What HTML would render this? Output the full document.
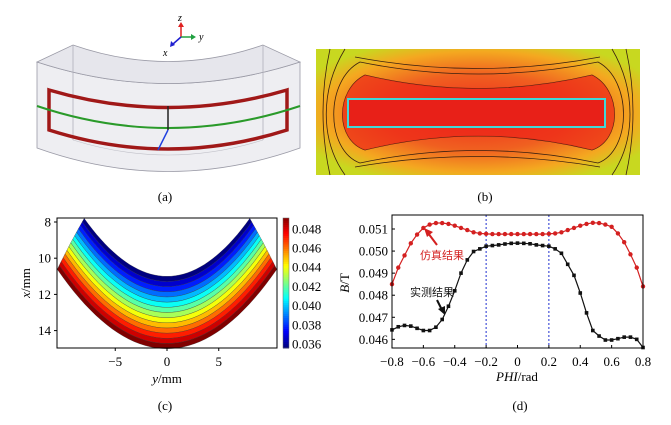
<!DOCTYPE html>
<html><head><meta charset="utf-8"><style>
html,body{margin:0;padding:0;background:#fff;}
svg{display:block;font-family:"Liberation Serif","Noto Serif CJK SC","Noto Sans CJK SC",serif;}
</style></head><body>
<svg id="fig" width="671" height="425" viewBox="0 0 671 425" xmlns="http://www.w3.org/2000/svg">
<defs>
<radialGradient id="bg" cx="50%" cy="50%" r="60%">
<stop offset="0" stop-color="#ee2a1c"/><stop offset="0.5" stop-color="#f06020"/><stop offset="0.8" stop-color="#f4a820"/><stop offset="1" stop-color="#c8d820"/>
</radialGradient>
</defs>
<!-- Panel a -->
<g>
<path d="M37,62 Q168,105 300,62 L300,148 Q168,195 37,148 Z" fill="#eeeef2" stroke="#9a9aa6" stroke-width="0.8"/>
<path d="M37,62 L73,45 Q168,78 263,45 L300,62 Q168,105 37,62 Z" fill="#e6e6ec" stroke="#9a9aa6" stroke-width="0.8"/>
<path d="M73,45 L73,140 M263,45 L263,140" stroke="#b0b0ba" stroke-width="0.8"/>
<path d="M73,140 Q168,170 263,140" fill="none" stroke="#c0c0c8" stroke-width="0.6"/>
<path d="M49,90 Q168,125 287,90 L287,130 Q168,168 49,130 Z" fill="none" stroke="#a01818" stroke-width="3.5"/>
<path d="M37,106 Q168,150 300,106" fill="none" stroke="#2a9a2a" stroke-width="2"/>
<path d="M168,106 L168,130" stroke="#222" stroke-width="1.5"/>
<path d="M168,130 L158,150" stroke="#2040e0" stroke-width="1.5"/>
<g>
<path d="M181,37 L181,26" stroke="#e02020" stroke-width="1.5"/><path d="M178,27 L181,22 L184,27Z" fill="#e02020"/>
<path d="M181,37 L192,37" stroke="#20a040" stroke-width="1.5"/><path d="M191,34 L196,37 L191,40Z" fill="#20a040"/>
<path d="M181,37 L173,44" stroke="#2020d0" stroke-width="1.5"/><path d="M171,41 L170,47 L175,45Z" fill="#2020d0"/>
<text x="178" y="21" font-size="10" font-style="italic">z</text>
<text x="199" y="40" font-size="10" font-style="italic">y</text>
<text x="163" y="56" font-size="10" font-style="italic">x</text>
</g>
</g>
<text x="165" y="201" font-size="13" text-anchor="middle">(a)</text>
<!-- Panel b -->
<g>
<rect x="316" y="49" width="324" height="126" fill="url(#bg)"/>
<g fill="none" stroke="#3a2010" stroke-width="0.8">
<path d="M330,49 Q316,112 330,175 M626,49 Q640,112 626,175"/>
<path d="M345,49 C320,90 320,140 345,175 M612,49 C636,90 636,140 612,175"/>
<path d="M355,57 Q478,80 600,57 M355,167 Q478,146 600,167"/>
<path d="M360,62 C325,80 325,150 360,163 Q478,138 598,163 C632,150 632,80 598,62 Q478,86 360,62Z"/>
<path d="M365,75 C335,90 335,140 365,150 Q478,122 592,150 C622,140 622,90 592,75 Q478,102 365,75Z"/>
</g>
<path d="M365,75 C335,90 335,140 365,150 Q478,122 592,150 C622,140 622,90 592,75 Q478,102 365,75Z" fill="#ec2418" opacity="0.7"/>
<rect x="348" y="99" width="257" height="28" fill="#e82018" stroke="#40d8d8" stroke-width="2"/>
</g>
<text x="485" y="201" font-size="13" text-anchor="middle">(b)</text>
<!-- Panel c -->
<g id="pc"></g>
<text x="165" y="410" font-size="13" text-anchor="middle">(c)</text>
<!-- Panel d -->
<g id="pd"></g>
<text x="520" y="410" font-size="13" text-anchor="middle">(d)</text>
</svg>
<script>
// ---- Panel (c) data ----
const cXTicks = [-5, 0, 5];
const cYTicks = [8, 10, 12, 14];
const cBarTicks = [0.036, 0.038, 0.040, 0.042, 0.044, 0.046, 0.048];
const cBandLevels = [0.0355,0.0365,0.0375,0.0385,0.0395,0.0405,0.0415,0.0425,0.0435,0.0445,0.0455,0.0465,0.0475,0.0485];
// ---- Panel (d) data ----
const dPhi = [-0.8,-0.76,-0.72,-0.68,-0.64,-0.6,-0.56,-0.52,-0.48,-0.44,-0.4,-0.36,-0.32,-0.28,-0.24,-0.2,-0.16,-0.12,-0.08,-0.04,0,0.04,0.08,0.12,0.16,0.2,0.24,0.28,0.32,0.36,0.4,0.44,0.48,0.52,0.56,0.6,0.64,0.68,0.72,0.76,0.8];
const dSim = [0.0485,0.04925,0.0498,0.05035,0.05075,0.05105,0.0512,0.05127,0.05127,0.05123,0.05115,0.05105,0.05095,0.05085,0.0508,0.05078,0.05077,0.05077,0.05077,0.05077,0.05077,0.05077,0.05077,0.05077,0.05077,0.05078,0.0508,0.05085,0.05095,0.05105,0.05115,0.05123,0.05128,0.05127,0.0512,0.0511,0.0508,0.0504,0.04985,0.04925,0.0484];
const dMeas = [0.04643,0.04657,0.04663,0.0466,0.0465,0.0464,0.0464,0.04655,0.0469,0.0475,0.0482,0.049,0.0496,0.04998,0.0501,0.05022,0.05025,0.05028,0.05032,0.05035,0.05036,0.05035,0.05033,0.05028,0.05025,0.05022,0.0501,0.0499,0.0494,0.0489,0.0481,0.0472,0.0464,0.04615,0.04597,0.04597,0.04603,0.0461,0.0461,0.046,0.04563];
const dXTicks = [-0.8,-0.6,-0.4,-0.2,0,0.2,0.4,0.6,0.8];
const dYTicks = [0.046,0.047,0.048,0.049,0.050,0.051];
const dDashed = [-0.2, 0.2];

const NS = "http://www.w3.org/2000/svg";
function mk(parent, tag, attrs, text){
  const e = document.createElementNS(NS, tag);
  for (const k in attrs) e.setAttribute(k, attrs[k]);
  if (text !== undefined) e.textContent = text;
  parent.appendChild(e);
  return e;
}
function jet(t){
  t = Math.max(0, Math.min(1, t));
  const r = Math.max(0, Math.min(1, 1.5 - Math.abs(4*t - 3)));
  const g = Math.max(0, Math.min(1, 1.5 - Math.abs(4*t - 2)));
  const b = Math.max(0, Math.min(1, 1.5 - Math.abs(4*t - 1)));
  return `rgb(${Math.round(r*255)},${Math.round(g*255)},${Math.round(b*255)})`;
}

// ---- Panel c ----
(function(){
  const g = document.getElementById('pc');
  const L=57,R=277,T=218,B=348;
  const sx = y => 167 + y*10.35;
  const sy = x => 222 + (x-8)*18.1;
  const vmin = 0.0355, vmax = 0.0485;
  function edge(t, y){ const xi = 11 - 0.05*y*y, xo = 15 - 0.039*y*y; return xi + (xo-xi)*t; }
  function yLimit(t){ return 8 + (10.6-8)*t; }
  function ptsFor(t){
    const ym = yLimit(t), arr=[];
    for (let i=0;i<=40;i++){ const y=-ym+2*ym*i/40; arr.push([sx(y), sy(edge(t,y))]); }
    return arr;
  }
  const n = cBandLevels.length;
  for (let i=0;i<n;i++){
    const t0=i/n, t1=(i+1)/n;
    const a=ptsFor(t0), b=ptsFor(t1).reverse();
    const d='M'+a.map(p=>p[0].toFixed(1)+','+p[1].toFixed(1)).join(' L')+' L'+b.map(p=>p[0].toFixed(1)+','+p[1].toFixed(1)).join(' L')+'Z';
    const p = mk(g,'path',{d:d, fill:jet((cBandLevels[i]-vmin)/(vmax-vmin)), stroke:'#333', 'stroke-width':'0.3'});
    
    
  }
  const fr = mk(g,'rect',{x:L,y:T,width:R-L,height:B-T,fill:'none',stroke:'#000','stroke-width':'1'});
  
  
  cXTicks.forEach(v=>{
    mk(g,'line',{x1:sx(v),x2:sx(v),y1:B,y2:B+3,stroke:'#000'});
    const t = mk(g,'text',{x:sx(v),y:B+18,'font-size':'13','text-anchor':'middle'}, v<0?'\u2212'+(-v):String(v));
    
    
  });
  cYTicks.forEach(v=>{
    mk(g,'line',{x1:L-3,x2:L,y1:sy(v),y2:sy(v),stroke:'#000'});
    const t = mk(g,'text',{x:L-6,y:sy(v)+4.5,'font-size':'13','text-anchor':'end'}, String(v));
    
    
  });
  const xt = mk(g,'text',{x:167,y:383,'font-size':'13','text-anchor':'middle'});
  
  
  xt.innerHTML = '<tspan font-style="italic">y</tspan>/mm';
  const yt = mk(g,'text',{transform:'translate(30,283) rotate(-90)','font-size':'13','text-anchor':'middle'});
  
  
  yt.innerHTML = '<tspan font-style="italic">x</tspan>/mm';
  const cb = mk(g,'g',{});
  
  
  const cbT=218, cbB=348;
  const cy = v => 344 - (v-0.036)/0.002*19.2;
  for (let i=0;i<60;i++){
    const t=i/60;
    mk(cb,'rect',{x:283,y:cbB-(i+1)*(cbB-cbT)/60,width:6,height:(cbB-cbT)/60+0.5,fill:jet(t)});
  }
  mk(cb,'rect',{x:283,y:cbT,width:6,height:cbB-cbT,fill:'none',stroke:'#666','stroke-width':'0.5'});
  cBarTicks.forEach(v=>{
    const t = mk(cb,'text',{x:292,y:cy(v)+4.5,'font-size':'13'}, v.toFixed(3));
    
    
  });
})();

// ---- Panel d ----
(function(){
  const g = document.getElementById('pd');
  const L=392,R=643,T=215,B=348;
  const sx = v => 517.5 + v*156.9;
  const sy = v => 229 - (v-0.051)*22070;
  dDashed.forEach(v=>{
    const l = mk(g,'line',{x1:sx(v),x2:sx(v),y1:T,y2:B,stroke:'#2030d0','stroke-width':'1','stroke-dasharray':'2,2'});
    
    
  });
  function series(vals,color,name,circle){
    const d = dPhi.map((x,i)=>(i?'L':'M')+sx(x).toFixed(1)+','+sy(vals[i]).toFixed(1)).join(' ');
    const p = mk(g,'path',{d:d,fill:'none',stroke:color,'stroke-width':'1.2'});
    
    
    dPhi.forEach((x,i)=>{
      let m;
      if (circle) m = mk(g,'circle',{cx:sx(x),cy:sy(vals[i]),r:2.2,fill:color});
      else m = mk(g,'rect',{x:sx(x)-1.8,y:sy(vals[i])-1.8,width:3.6,height:3.6,fill:color});
      
      
    });
  }
  series(dSim,'#d42020','simulated',true);
  series(dMeas,'#111','measured',false);
  const fr = mk(g,'rect',{x:L,y:T,width:R-L,height:B-T,fill:'none',stroke:'#000','stroke-width':'1'});
  
  
  dXTicks.forEach(v=>{
    mk(g,'line',{x1:sx(v),x2:sx(v),y1:B,y2:B-3,stroke:'#000'});
    const s = v===0?'0':(v<0?'\u2212':'')+Math.abs(v).toFixed(1);
    const t = mk(g,'text',{x:sx(v),y:B+18,'font-size':'13','text-anchor':'middle'}, s);
    
    
  });
  dYTicks.forEach(v=>{
    mk(g,'line',{x1:L,x2:L+3,y1:sy(v),y2:sy(v),stroke:'#000'});
    const t = mk(g,'text',{x:L-4,y:sy(v)+4.5,'font-size':'13','text-anchor':'end'}, v.toFixed(3));
    
    
  });
  const xt = mk(g,'text',{x:517,y:381,'font-size':'13','text-anchor':'middle'});
  
  
  xt.innerHTML = '<tspan font-style="italic">PHI</tspan>/rad';
  const yt = mk(g,'text',{transform:'translate(349,283) rotate(-90)','font-size':'13','text-anchor':'middle'});
  
  
  yt.innerHTML = '<tspan font-style="italic">B</tspan>/T';
  const a1 = mk(g,'text',{x:420,y:259,'font-size':'11',fill:'#d42020','font-family':'"Noto Sans CJK SC",sans-serif'},'仿真结果');
  
  
  mk(g,'path',{d:'M437,245 L428,233',stroke:'#d42020','stroke-width':'2'});
  mk(g,'path',{d:'M424,228 L433,232 L427,237Z',fill:'#d42020'});
  const a2 = mk(g,'text',{x:410,y:296,'font-size':'11',fill:'#111','font-family':'"Noto Sans CJK SC",sans-serif'},'实测结果');
  
  
  mk(g,'path',{d:'M437,300 L442,310',stroke:'#111','stroke-width':'2'});
  mk(g,'path',{d:'M445,315 L438,309 L445,306Z',fill:'#111'});
})();
</script>
</body></html>
